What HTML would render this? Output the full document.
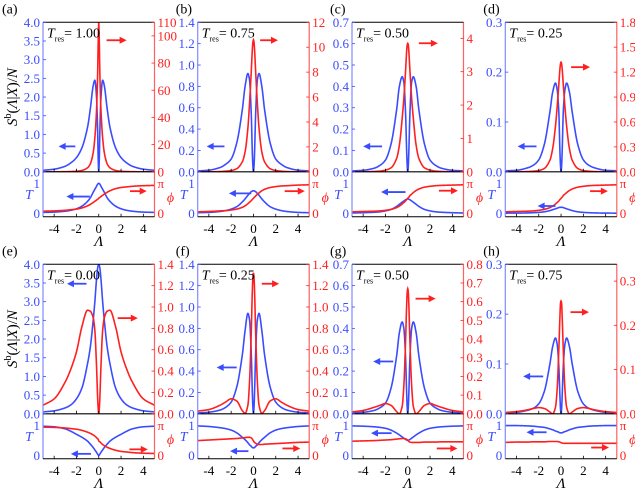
<!DOCTYPE html>
<html><head><meta charset="utf-8"><style>
html,body{margin:0;padding:0;background:#fff;}
svg, svg text, svg tspan{font-family:"Times New Roman","Liberation Serif",Times,"DejaVu Serif",serif !important;}
</style></head><body>
<svg id="fig" width="635" height="493" viewBox="0 0 635 493" xmlns="http://www.w3.org/2000/svg"></svg>
<script>
const H = [0,0.05,0.1,0.2,0.35,0.5,0.75,1,1.5,2,2.5,3,4,5];
const labels = ["(a)","(b)","(c)","(d)","(e)","(f)","(g)","(h)"];
const tres = ["1.00","0.75","0.50","0.25","0.00","0.25","0.50","0.75"];
const aS=[0,0.35,1.1,2.0,2.45,2.3,1.7,1.2,0.65,0.38,0.24,0.15,0.07,0.04];
const aR=[110,95,72,45,25,14,6,3,1,0.4,0.2,0.1,0,0];
const aT=[1,0.99,0.97,0.9,0.8,0.7,0.52,0.4,0.24,0.15,0.1,0.07,0.04,0.03];
const aP=[0.5,0.52,0.53,0.56,0.6,0.64,0.7,0.75,0.82,0.86,0.88,0.9,0.92,0.93];
const bS=[0,0.05,0.18,0.55,0.86,0.92,0.8,0.58,0.27,0.12,0.07,0.04,0.015,0.008];
const bR=[10.6,10.4,9.8,8,5.5,3.5,1.6,0.8,0.25,0.1,0.05,0.02,0,0];
const bT=[0.75,0.75,0.74,0.72,0.66,0.6,0.48,0.38,0.22,0.14,0.09,0.06,0.03,0.02];
const bP=[0.5,0.52,0.54,0.58,0.63,0.68,0.75,0.8,0.86,0.89,0.91,0.92,0.94,0.95];
const cS=[0,0.03,0.1,0.28,0.42,0.445,0.4,0.29,0.13,0.055,0.03,0.017,0.007,0.004];
const cR=[3.85,3.8,3.6,3.0,2.2,1.6,0.8,0.4,0.12,0.05,0.02,0.01,0,0];
const cT=[0.48,0.48,0.47,0.45,0.41,0.37,0.3,0.23,0.13,0.08,0.05,0.035,0.02,0.01];
const cP=[0.5,0.52,0.54,0.59,0.64,0.69,0.76,0.81,0.87,0.9,0.92,0.93,0.94,0.95];
const dS=[0,0.012,0.04,0.12,0.165,0.178,0.16,0.12,0.055,0.024,0.013,0.008,0.003,0.002];
const dR=[1.32,1.3,1.24,1.05,0.78,0.55,0.28,0.14,0.04,0.015,0.007,0.003,0,0];
const dT=[0.2,0.2,0.2,0.19,0.17,0.15,0.12,0.09,0.05,0.03,0.02,0.013,0.007,0.005];
const dP=[0.5,0.52,0.54,0.59,0.64,0.69,0.76,0.81,0.87,0.9,0.92,0.93,0.94,0.95];
const eS=[4,3.97,3.9,3.6,3.0,2.5,1.8,1.35,0.7,0.4,0.24,0.16,0.08,0.05];
const eR=[0,0.05,0.15,0.45,0.78,0.9,0.96,0.97,0.82,0.58,0.42,0.3,0.14,0.08];
const eT=[0,0.01,0.04,0.1,0.18,0.26,0.37,0.47,0.6,0.7,0.8,0.88,0.95,0.97];
const eP=[0.48,0.46,0.45,0.41,0.36,0.32,0.27,0.23,0.17,0.13,0.11,0.09,0.07,0.06];
const fS=[0,0.06,0.2,0.58,0.88,0.94,0.78,0.55,0.25,0.11,0.06,0.035,0.015,0.008];
const fR=[1.32,1.28,1.15,0.75,0.3,0.08,0.005,0.03,0.12,0.14,0.11,0.08,0.04,0.025];
const fT=[0.25,0.25,0.26,0.3,0.35,0.42,0.52,0.6,0.75,0.84,0.89,0.92,0.96,0.98];
const fPfull=[0.49,0.51,0.53,0.54,0.55,0.56,0.58,0.59,0.6,0.6,0.58,0.54,0.51,0.48,0.45,0.43,0.4,0.37,0.36,0.36,0.37,0.38,0.39,0.4,0.41,0.43,0.44];
const gS=[0,0.03,0.1,0.27,0.4,0.43,0.38,0.27,0.12,0.05,0.028,0.016,0.007,0.004];
const gR=[0.67,0.65,0.58,0.38,0.15,0.04,0,0.012,0.045,0.055,0.045,0.035,0.018,0.01];
const gT=[0.5,0.5,0.51,0.53,0.57,0.61,0.68,0.74,0.84,0.9,0.93,0.95,0.97,0.98];
const gPfull=[0.47,0.48,0.49,0.5,0.51,0.52,0.54,0.55,0.56,0.56,0.55,0.53,0.52,0.5,0.48,0.46,0.44,0.43,0.43,0.43,0.43,0.44,0.44,0.44,0.45,0.45,0.45];
const hS=[0,0.01,0.035,0.095,0.14,0.152,0.135,0.1,0.045,0.02,0.011,0.007,0.003,0.002];
const hR=[0.255,0.25,0.22,0.145,0.055,0.015,0,0.004,0.012,0.014,0.012,0.009,0.005,0.003];
const hT=[0.75,0.75,0.75,0.77,0.79,0.81,0.85,0.88,0.93,0.95,0.97,0.98,0.99,0.99];
const hPfull=[0.43,0.44,0.44,0.45,0.45,0.45,0.46,0.46,0.46,0.46,0.45,0.44,0.43,0.42,0.41,0.41,0.4,0.4,0.4,0.4,0.4,0.4,0.4,0.4,0.4,0.4,0.4];
const leftMax=[4,1.4,0.7,0.3,4,1.4,0.7,0.3];
const leftTicks=[[0,0.5,1,1.5,2,2.5,3,3.5,4],[0,0.2,0.4,0.6,0.8,1,1.2,1.4],[0,0.1,0.2,0.3,0.4,0.5,0.6,0.7],[0,0.1,0.2,0.3],
 [0,0.5,1,1.5,2,2.5,3,3.5,4],[0,0.2,0.4,0.6,0.8,1,1.2,1.4],[0,0.1,0.2,0.3,0.4,0.5,0.6,0.7],[0,0.1,0.2,0.3]];
const leftDec=[1,1,1,1,1,1,1,1];
const rightMax=[110,12,4.48,1.8,1.4,1.4,0.8,0.338];
const rightTicks=[[0,20,40,60,80,100,110],[0,2,4,6,8,10,12],[0,1,2,3,4],[0,0.3,0.6,0.9,1.2,1.5,1.8],
 [0,0.2,0.4,0.6,0.8,1,1.2,1.4],[0,0.2,0.4,0.6,0.8,1,1.2,1.4],[0,0.1,0.2,0.3,0.4,0.5,0.6,0.7,0.8],[0,0.1,0.2,0.3]];
const rightDec=[0,0,0,1,1,1,1,1];
const xTicks=[-4,-2,0,2,4];
const arrMainB=[[-2.1,-3.6,0.17],[-2.6,-4.2,0.17],[-2.3,-4.0,0.17],[-2.2,-3.9,0.17],[-1.1,-2.85,0.87],[-1.5,-3.3,0.31],[-1.3,-3.1,0.35],[-1.6,-3.4,0.25]];
const arrMainR=[[0.7,2.5,0.88],[0.6,2.2,0.88],[1.0,2.7,0.86],[0.9,2.6,0.7],[1.7,3.5,0.64],[0.75,2.3,0.87],[0.7,2.5,0.77],[0.85,2.5,0.68]];
const arrSubB=[[-0.8,-2.9,0.45],[-0.2,-2.2,0.52],[-0.2,-2.4,0.55],[-0.5,-2.1,0.24],[-0.7,-2.5,0.11],[-0.45,-2.1,0.17],[-1.45,-3.3,0.57],[-1.3,-3.1,0.59]];
const arrSubR=[[2.8,4.3,0.57],[2.8,4.6,0.57],[2.8,4.5,0.58],[2.6,4.2,0.57],[2.75,4.4,0.21],[2.6,4.2,0.23],[2.6,4.45,0.23],[2.7,4.3,0.25]];

function sym(h){return h.slice(1).reverse().concat(h);}
function anti(h){return h.slice(1).reverse().map(v=>1-v).concat(h);}
const X = H.slice(1).reverse().map(v=>-v).concat(H);
const S=[aS,bS,cS,dS,eS,fS,gS,hS].map(sym);
const R=[aR,bR,cR,dR,eR,fR,gR,hR].map(sym);
const T=[aT,bT,cT,dT,eT,fT,gT,hT].map(sym);
const P=[anti(aP),anti(bP),anti(cP),anti(dP),anti(eP),fPfull,gPfull,hPfull];

const NS="http://www.w3.org/2000/svg", svg=document.getElementById('fig');
const BLUE="#3a4cff", RED="#ff1f1f", FONT="'Times New Roman','Liberation Serif',Times,serif";
function el(tag,attrs,parent){const e=document.createElementNS(NS,tag);for(const k in attrs)e.setAttribute(k,attrs[k]);if(tag==='text')e.style.fontFamily=FONT;(parent||svg).appendChild(e);return e;}
function monotone(xs,ys,n){
  const m=xs.length,d=[],s=[];
  for(let i=0;i<m-1;i++)d.push((ys[i+1]-ys[i])/(xs[i+1]-xs[i]));
  for(let i=0;i<m;i++){
    if(i==0)s.push(d[0]);else if(i==m-1)s.push(d[m-2]);
    else s.push(d[i-1]*d[i]<=0?0:(2*d[i-1]*d[i])/(d[i-1]+d[i]));
  }
  const out=[];
  for(let k=0;k<=n;k++){
    const x=xs[0]+(xs[m-1]-xs[0])*k/n;let i=0;while(i<m-2&&x>xs[i+1])i++;
    const h=xs[i+1]-xs[i],t=(x-xs[i])/h,t2=t*t,t3=t2*t;
    const y=(2*t3-3*t2+1)*ys[i]+(t3-2*t2+t)*h*s[i]+(-2*t3+3*t2)*ys[i+1]+(t3-t2)*h*s[i+1];
    out.push([x,y]);
  }
  return out;
}
const L=[43,197.7,352,505.3], W=111.5, TOP=[22.3,264.3], MH=149.5, SH=45;
function fmt(v,d){return v.toFixed(d);}
for(let p=0;p<8;p++){
  const c=p%4,r=Math.floor(p/4),x0=L[c],y0=TOP[r],yb=y0+MH,ys=yb+SH;
  const g=el('g',{});
  
  
  const sx=v=>x0+(v+5)/10*W;
  const syL=v=>yb-v/leftMax[p]*MH, syR=v=>yb-v/rightMax[p]*MH;
  const syS=v=>ys-3.5-v*30;
  const cid='clip'+p, cid2='clips'+p;
  const defs=el('defs',{},g);
  const cp=el('clipPath',{id:cid},defs);el('rect',{x:x0,y:y0,width:W,height:MH},cp);
  const cp2=el('clipPath',{id:cid2},defs);el('rect',{x:x0,y:yb,width:W,height:SH},cp2);
  function curve(xs,vals,fy,color,clip,name){
    const pts=monotone(xs,vals,500);
    const d=pts.map((q,i)=>(i?'L':'M')+sx(q[0]).toFixed(2)+','+fy(q[1]).toFixed(2)).join('');
    const e=el('path',{d:d,fill:'none',stroke:color,'stroke-width':1.6,'clip-path':'url(#'+clip+')'},g);
    
    
  }
  curve(X,S[p],syL,BLUE,cid,'spectrum-curve');
  curve(X,R[p],syR,RED,cid,'red-spectrum-curve');
  curve(X,T[p],syS,BLUE,cid2,'transmission-curve');
  curve(X,P[p],syS,RED,cid2,'phase-curve');
  el('line',{x1:x0,y1:y0,x2:x0,y2:ys,stroke:'#7f8cff','stroke-width':1.2},g);
  el('line',{x1:x0+W,y1:y0,x2:x0+W,y2:ys,stroke:'#ff6060','stroke-width':1.2},g);
  el('line',{x1:x0,y1:y0,x2:x0+W,y2:y0,stroke:'#000','stroke-width':1},g);
  el('line',{x1:x0,y1:yb,x2:x0+W,y2:yb,stroke:'#000','stroke-width':1.2},g);
  el('line',{x1:x0,y1:ys,x2:x0+W,y2:ys,stroke:'#000','stroke-width':1},g);
  leftTicks[p].forEach(v=>{
    const y=syL(v);el('line',{x1:x0,y1:y,x2:x0+3,y2:y,stroke:BLUE,'stroke-width':0.8},g);
    const t=el('text',{x:x0-3,y:y+4.5,'text-anchor':'end','font-size':13,fill:BLUE},g);t.textContent=fmt(v,leftDec[p]);
    
  });
  rightTicks[p].forEach(v=>{
    const y=syR(v);el('line',{x1:x0+W-3,y1:y,x2:x0+W,y2:y,stroke:RED,'stroke-width':0.8},g);
    const t=el('text',{x:x0+W+3,y:y+4.5,'font-size':13,fill:RED},g);t.textContent=fmt(v,rightDec[p]);
    
  });
  [[1,'1','π'],[0,'0','0']].forEach(a=>{
    const y=syS(a[0]);
    const t1=el('text',{x:x0-3,y:y+4.5,'text-anchor':'end','font-size':13,fill:BLUE},g);t1.textContent=a[1];
    const t2=el('text',{x:x0+W+3,y:y+4.5,'font-size':13,fill:RED},g);t2.textContent=a[2];
  });
  const tT=el('text',{x:x0-14,y:yb+27,'text-anchor':'middle','font-size':14,'font-style':'italic',fill:BLUE},g);tT.textContent='T';
  
  const tP=el('text',{x:x0+W+16,y:yb+30,'text-anchor':'middle','font-size':14,'font-style':'italic',fill:RED},g);tP.textContent='ϕ';
  
  xTicks.forEach(v=>{
    const x=sx(v);
    el('line',{x1:x,y1:ys,x2:x,y2:ys-3,stroke:'#000','stroke-width':0.8},g);
    el('line',{x1:x,y1:yb,x2:x,y2:yb-3,stroke:'#000','stroke-width':0.8},g);
    const t=el('text',{x:x,y:ys+16,'text-anchor':'middle','font-size':13},g);t.textContent=String(v);
    
  });
  const xl=el('text',{x:x0+W/2,y:ys+29,'text-anchor':'middle','font-size':15,'font-style':'italic'},g);xl.textContent='Λ';
  
  const pl=el('text',{x:x0-(c==0?41:22),y:y0-9,'font-size':14},g);pl.textContent=labels[p];
  
  const tr=el('text',{x:x0+4,y:y0+15,'font-size':14},g);
  
  const s1=el('tspan',{'font-style':'italic'},tr);s1.textContent='T';
  const s2=el('tspan',{'font-size':8,dy:4},tr);s2.textContent='res';
  const s3=el('tspan',{dy:-4},tr);s3.textContent='= '+tres[p];
  function arrow(a,fy0,fh,color,name){
    const y=fy0-a[2]*fh,x1=sx(a[0]),x2=sx(a[1]),dir=Math.sign(x2-x1);
    const ln=el('line',{x1:x1,y1:y,x2:x2-dir*6,y2:y,stroke:color,'stroke-width':1.8},g);
    
    el('polygon',{points:`${x2},${y} ${x2-dir*7},${y-3.5} ${x2-dir*7},${y+3.5}`,fill:color},g);
  }
  arrow(arrMainB[p],yb,MH,BLUE,'left-axis-arrow');
  arrow(arrMainR[p],yb,MH,RED,'right-axis-arrow');
  arrow(arrSubB[p],ys,SH,BLUE,'t-arrow');
  arrow(arrSubR[p],ys,SH,RED,'phi-arrow');
  if(c==0){
    const yl=el('text',{transform:`translate(17,${y0+MH/2}) rotate(-90)`,'text-anchor':'middle','font-size':15},g);
    
    const a1=el('tspan',{'font-style':'italic'},yl);a1.textContent='S';
    const a2=el('tspan',{'font-size':10,dy:-6},yl);a2.textContent='b';
    const a3=el('tspan',{dy:6},yl);a3.textContent='(';
    const a4=el('tspan',{'font-style':'italic'},yl);a4.textContent='Λ';
    const a5=el('tspan',{},yl);a5.textContent='|';
    const a6=el('tspan',{'font-style':'italic'},yl);a6.textContent='X';
    const a7=el('tspan',{},yl);a7.textContent=')/';
    const a8=el('tspan',{'font-style':'italic'},yl);a8.textContent='N';
  }
}
</script>
</body></html>
